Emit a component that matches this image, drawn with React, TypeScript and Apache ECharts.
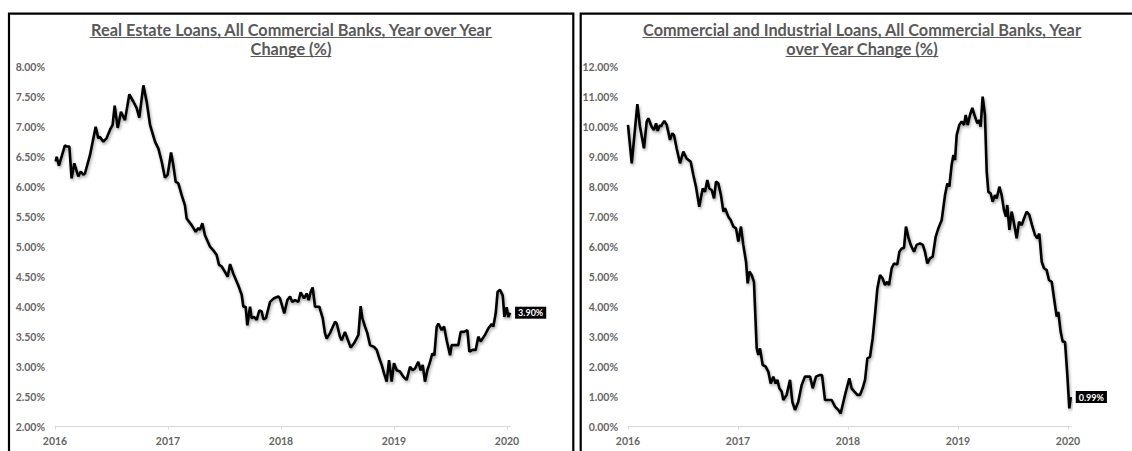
import React, { useEffect, useRef } from "react";
import * as echarts from "echarts";

// ---------- data (decimal years / percent) ----------
const reYears = [
  2016.006, 2016.015, 2016.035, 2016.088, 2016.103, 2016.127, 2016.147, 2016.171, 2016.206, 2016.227,
  2016.251, 2016.265, 2016.31, 2016.36, 2016.383, 2016.398, 2016.428, 2016.457, 2016.487, 2016.51,
  2016.528, 2016.555, 2016.584, 2016.619, 2016.658, 2016.693, 2016.723, 2016.746, 2016.782, 2016.811,
  2016.841, 2016.885, 2016.914, 2016.944, 2016.973, 2016.997, 2017.027, 2017.047, 2017.068, 2017.091,
  2017.121, 2017.15, 2017.165, 2017.209, 2017.245, 2017.268, 2017.283, 2017.304, 2017.327, 2017.372,
  2017.401, 2017.431, 2017.451, 2017.475, 2017.504, 2017.528, 2017.549, 2017.578, 2017.614, 2017.631,
  2017.652, 2017.667, 2017.687, 2017.702, 2017.726, 2017.74, 2017.761, 2017.785, 2017.808, 2017.829,
  2017.844, 2017.867, 2017.903, 2017.938, 2017.976, 2017.991, 2018.029, 2018.056, 2018.08, 2018.1,
  2018.124, 2018.153, 2018.174, 2018.204, 2018.227, 2018.245, 2018.263, 2018.28, 2018.301, 2018.339,
  2018.369, 2018.389, 2018.404, 2018.434, 2018.478, 2018.493, 2018.522, 2018.537, 2018.566, 2018.587,
  2018.617, 2018.646, 2018.685, 2018.705, 2018.72, 2018.743, 2018.764, 2018.788, 2018.823, 2018.847,
  2018.87, 2018.891, 2018.912, 2018.935, 2018.956, 2018.979, 2019.0, 2019.024, 2019.053, 2019.083,
  2019.112, 2019.142, 2019.165, 2019.186, 2019.215, 2019.236, 2019.254, 2019.274, 2019.295, 2019.319,
  2019.339, 2019.357, 2019.378, 2019.392, 2019.422, 2019.443, 2019.466, 2019.496, 2019.51, 2019.54,
  2019.569, 2019.59, 2019.619, 2019.649, 2019.667, 2019.696, 2019.723, 2019.746, 2019.767, 2019.805,
  2019.835, 2019.864, 2019.879, 2019.9, 2019.917, 2019.938, 2019.962, 2019.977, 2019.997, 2020.012,
  2020.027,
];
const reValues = [
  6.42, 6.5, 6.35, 6.69, 6.67, 6.67, 6.14, 6.39, 6.17, 6.25,
  6.2, 6.22, 6.53, 7.0, 6.81, 6.83, 6.75, 6.81, 6.95, 7.03,
  7.35, 6.98, 7.25, 7.11, 7.54, 7.42, 7.31, 7.15, 7.69, 7.42,
  7.03, 6.75, 6.64, 6.42, 6.15, 6.2, 6.57, 6.36, 6.08, 6.06,
  5.86, 5.69, 5.47, 5.36, 5.25, 5.31, 5.28, 5.39, 5.19, 5.0,
  4.94, 4.86, 4.7, 4.67, 4.58, 4.5, 4.71, 4.55, 4.39, 4.31,
  4.2, 4.0, 4.0, 3.69, 4.0, 3.81, 3.83, 3.78, 3.94, 3.92,
  3.79, 3.81, 4.08, 4.14, 4.17, 4.14, 3.89, 4.11, 4.17, 4.08,
  4.11, 4.08, 4.24, 4.14, 4.22, 4.11, 4.25, 4.32, 4.0, 4.0,
  3.81, 3.56, 3.47, 3.56, 3.75, 3.72, 3.5, 3.44, 3.58, 3.47,
  3.32, 3.39, 3.53, 4.01, 3.81, 3.67, 3.56, 3.36, 3.33, 3.28,
  3.14, 3.03, 2.89, 2.75, 3.11, 2.75, 3.06, 2.94, 2.92, 2.83,
  2.78, 3.0, 2.94, 2.97, 3.08, 2.94, 3.03, 2.75, 2.94, 3.08,
  3.22, 3.19, 3.67, 3.72, 3.61, 3.67, 3.44, 3.19, 3.36, 3.36,
  3.36, 3.58, 3.58, 3.61, 3.25, 3.28, 3.28, 3.5, 3.42, 3.53,
  3.64, 3.71, 3.67, 3.89, 4.25, 4.28, 4.19, 3.83, 3.99, 3.83,
  3.9,
];

const ciYears = [
  2016.0, 2016.034, 2016.085, 2016.109, 2016.145, 2016.17, 2016.185, 2016.215, 2016.236, 2016.255,
  2016.27, 2016.291, 2016.3, 2016.315, 2016.33, 2016.352, 2016.382, 2016.403, 2016.418, 2016.442,
  2016.473, 2016.503, 2016.533, 2016.57, 2016.594, 2016.618, 2016.648, 2016.679, 2016.7, 2016.721,
  2016.739, 2016.761, 2016.782, 2016.8, 2016.821, 2016.845, 2016.867, 2016.882, 2016.912, 2016.933,
  2016.958, 2016.982, 2017.003, 2017.027, 2017.048, 2017.073, 2017.088, 2017.103, 2017.124, 2017.145,
  2017.17, 2017.185, 2017.2, 2017.224, 2017.252, 2017.276, 2017.297, 2017.321, 2017.342, 2017.358,
  2017.376, 2017.397, 2017.412, 2017.442, 2017.473, 2017.494, 2017.518, 2017.548, 2017.579, 2017.609,
  2017.655, 2017.679, 2017.709, 2017.739, 2017.764, 2017.791, 2017.852, 2017.882, 2017.912, 2017.933,
  2017.973, 2018.012, 2018.033, 2018.058, 2018.085, 2018.109, 2018.133, 2018.155, 2018.176, 2018.2,
  2018.224, 2018.245, 2018.267, 2018.291, 2018.315, 2018.336, 2018.355, 2018.373, 2018.397, 2018.418,
  2018.448, 2018.467, 2018.488, 2018.509, 2018.527, 2018.548, 2018.57, 2018.6, 2018.624, 2018.655,
  2018.68, 2018.7, 2018.721, 2018.745, 2018.77, 2018.797, 2018.821, 2018.852, 2018.882, 2018.903,
  2018.921, 2018.942, 2018.958, 2018.973, 2018.988, 2019.012, 2019.033, 2019.055, 2019.07, 2019.088,
  2019.109, 2019.13, 2019.155, 2019.176, 2019.194, 2019.206, 2019.224, 2019.245, 2019.261, 2019.276,
  2019.297, 2019.315, 2019.336, 2019.352, 2019.376, 2019.397, 2019.418, 2019.436, 2019.448, 2019.467,
  2019.488, 2019.509, 2019.533, 2019.555, 2019.579, 2019.6, 2019.624, 2019.648, 2019.673, 2019.7,
  2019.721, 2019.739, 2019.761, 2019.782, 2019.806, 2019.827, 2019.852, 2019.873, 2019.897, 2019.912,
  2019.933, 2019.952, 2019.973, 2019.994, 2020.012, 2020.025,
];
const ciValues = [
  10.06, 8.78, 10.75, 10.0, 9.28, 10.17, 10.28, 10.0, 9.89, 10.11,
  9.86, 10.06, 10.0, 10.11, 10.19, 10.06, 9.56, 9.78, 9.72, 9.28,
  8.78, 9.17, 8.94, 8.83, 8.39, 8.0, 7.33, 7.94, 7.83, 8.22,
  7.94, 7.89, 7.61, 8.17, 8.11, 7.72, 7.17, 7.28, 7.0, 6.89,
  6.67, 6.61, 6.17, 6.67, 6.06, 5.5, 4.78, 5.17, 5.06, 4.83,
  2.61, 2.39, 2.61, 2.06, 2.0, 1.83, 1.44, 1.67, 1.44, 1.56,
  1.28, 1.17, 0.89, 1.06, 1.56, 0.83, 0.56, 0.83, 1.39, 1.67,
  1.67, 1.28, 1.67, 1.72, 1.72, 0.89, 0.89, 0.67, 0.56, 0.44,
  1.06, 1.61, 1.28, 1.17, 1.06, 1.06, 1.28, 1.56, 2.28, 2.33,
  2.94, 3.72, 4.61, 5.06, 4.94, 4.72, 4.83, 4.72, 5.28, 5.44,
  5.41, 5.83, 5.94, 5.96, 6.67, 6.33, 6.06, 5.83, 6.06, 6.11,
  6.06, 5.83, 5.44, 5.61, 5.67, 6.33, 6.61, 6.89, 7.72, 8.11,
  8.0, 8.72, 9.06, 8.89, 9.72, 10.06, 10.17, 10.06, 10.39, 10.06,
  10.39, 10.63, 10.33, 10.11, 10.22, 10.0, 11.0, 10.39, 8.5, 7.83,
  7.78, 7.5, 7.72, 7.61, 8.0, 7.72, 7.22, 7.0, 7.39, 6.56,
  7.17, 6.78, 6.28, 6.83, 6.72, 6.94, 7.17, 7.06, 6.72, 6.39,
  6.28, 6.44, 5.5, 5.28, 5.22, 4.89, 4.83, 4.28, 3.67, 3.83,
  3.17, 2.83, 2.83, 1.72, 0.61, 0.99,
];

const titleLeft = ["Real Estate Loans, All Commercial Banks, Year over Year", "Change (%)"];
const titleRight = ["Commercial and Industrial Loans, All Commercial Banks, Year", "over Year Change (%)"];

const FONT = "Lato, 'Open Sans', sans-serif";
const TITLE_SIZE = 16.3;
const GRAY = "#595959";
const LABEL_GRAY = "#666666";

function measure(text: string): number {
  const c = document.createElement("canvas").getContext("2d");
  if (!c) return text.length * 7.5;
  c.font = `bold ${TITLE_SIZE}px Lato`;
  return c.measureText(text).width;
}

function titleGraphics(lines: string[], cx: number): any[] {
  const out: any[] = [];
  const ys = [29, 48];
  lines.forEach((s, i) => {
    const w = measure(s);
    out.push({
      type: "text",
      x: cx,
      y: ys[i],
      style: {
        text: s,
        fill: GRAY,
        font: `bold ${TITLE_SIZE}px ${FONT}`,
        textAlign: "center",
        textVerticalAlign: "middle",
        verticalAlign: "middle",
        align: "center",
      },
    });
    out.push({
      type: "line",
      shape: { x1: cx - w / 2, y1: ys[i] + 8.5, x2: cx + w / 2, y2: ys[i] + 8.5 },
      style: { stroke: GRAY, lineWidth: 1 },
    });
  });
  return out;
}

function lineSeries(xs: number[], vs: number[], idx: number) {
  return {
    type: "line",
    xAxisIndex: idx,
    yAxisIndex: idx,
    data: xs.map((x, i) => [x, vs[i]]),
    showSymbol: false,
    symbol: "none",
    lineStyle: {
      color: "#000",
      width: 2.6,
      shadowColor: "rgba(0,0,0,0.35)",
      shadowBlur: 3,
      shadowOffsetX: 1,
      shadowOffsetY: 2,
    },
    endLabel: {
      show: true,
      distance: 5,
      formatter: (p: any) => `${Number(p.value[1]).toFixed(2)}%`,
      backgroundColor: "#000",
      color: "#fff",
      fontFamily: FONT,
      fontWeight: "bold",
      fontSize: 9,
      lineHeight: 10,
      padding: [1, 3],
    },
  };
}

function xAxis(idx: number) {
  return {
    gridIndex: idx,
    type: "value",
    min: 2016,
    max: 2020.03,
    interval: 1,
    splitLine: { show: false },
    axisLine: { show: true, lineStyle: { color: "#d9d9d9", width: 1 } },
    axisTick: { show: true, length: 3, lineStyle: { color: "#d9d9d9" } },
    axisLabel: {
      showMaxLabel: false,
      color: LABEL_GRAY,
      fontFamily: FONT,
      fontWeight: "bold",
      fontSize: 10.5,
      margin: 9,
      formatter: (v: number) => (Math.abs(v - Math.round(v)) < 1e-6 ? String(Math.round(v)) : ""),
    },
  };
}

function yAxis(idx: number, min: number, max: number, interval: number) {
  return {
    gridIndex: idx,
    type: "value",
    min,
    max,
    interval,
    splitLine: { show: false },
    axisLine: { show: false },
    axisTick: { show: false },
    axisLabel: {
      color: LABEL_GRAY,
      fontFamily: FONT,
      fontWeight: "bold",
      fontSize: 10.5,
      margin: 10,
      formatter: (v: number) => `${v.toFixed(2)}%`,
    },
  };
}

export default function App() {
  const ref = useRef<HTMLDivElement>(null);
  useEffect(() => {
    if (!ref.current) return;
    const chart = echarts.init(ref.current, undefined, { renderer: "svg" });
    const option: any = {
      animation: false,
      backgroundColor: "#fff",
      grid: [
        { left: 55, top: 66.7, width: 455.4, height: 360 },
        { left: 628, top: 66.7, width: 443.3, height: 360 },
      ],
      xAxis: [xAxis(0), xAxis(1)],
      yAxis: [yAxis(0, 2, 8, 0.5), yAxis(1, 0, 12, 1)],
      series: [lineSeries(reYears, reValues, 0), lineSeries(ciYears, ciValues, 1)],
      graphic: [
        {
          type: "rect",
          shape: { x: 9, y: 13.7, width: 564.3, height: 460 },
          style: { fill: "none", stroke: "#000", lineWidth: 2.2 },
          silent: true,
        },
        {
          type: "rect",
          shape: { x: 580.7, y: 13.7, width: 600, height: 460 },
          style: { fill: "none", stroke: "#000", lineWidth: 2.2 },
          silent: true,
        },
        ...titleGraphics(titleLeft, 291),
        ...titleGraphics(titleRight, 862),
      ],
    };
    chart.setOption(option);
    return () => chart.dispose();
  }, []);
  return (
    <div
      ref={ref}
      style={{ position: "fixed", left: 0, top: 0, width: 1132, height: 451, background: "#fff" }}
    />
  );
}
